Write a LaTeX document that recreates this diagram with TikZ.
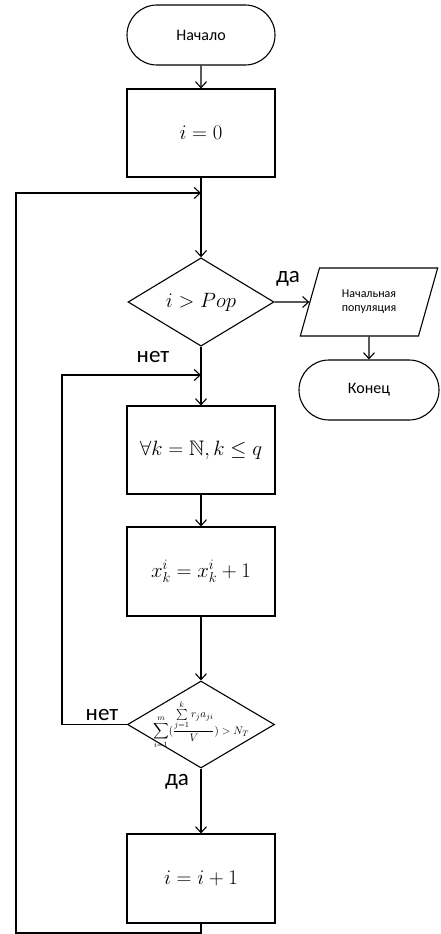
\documentclass[tikz,border=0pt]{standalone}
\usepackage{amsmath,amssymb}
\usepackage{fontspec}
\setmainfont{Carlito}
\usetikzlibrary{shapes.geometric,shapes.misc,arrows.meta}

\begin{document}
\begin{tikzpicture}[x=1pt,y=-1pt, line width=1.1pt,
  box/.style={draw, rectangle, minimum width=148pt, minimum height=88pt,
    inner sep=0pt, font=\fontsize{21}{24}\selectfont},
  term/.style={draw, rounded rectangle, minimum height=60pt,
    inner sep=0pt, font=\fontsize{16}{19}\selectfont},
  cond/.style={draw, diamond, minimum width=146pt, minimum height=88pt,
    inner sep=0pt},
  io/.style={draw, trapezium, trapezium left angle=66, trapezium right angle=114,
    trapezium stretches=true, minimum width=138pt, minimum height=68pt,
    inner sep=0pt, align=center, font=\fontsize{12}{14}\selectfont},
  flow/.style={-{Straight Barb[length=6pt,width=11pt]}},
  lbl/.style={font=\fontsize{23}{26}\selectfont, inner sep=0pt}
]
\useasboundingbox (0,0) rectangle (440,934);

% main column
\node[term, minimum width=148pt] (start) at (201,35) {Начало};
\node[box] (init) at (201,133) {$i=0$};
\node[cond, font=\fontsize{20}{24}\selectfont] (d1) at (201,302) {$i>Pop$};
\node[box] (loopk) at (201,450) {$\forall k=\mathbb{N}, k\le q$};
\node[box, minimum height=89pt] (incx) at (201,571.5) {$x_k^i=x_k^i+1$};
% the condition is set over a fixed-size diamond so the shape does not grow
\node[cond, minimum width=147pt, minimum height=87pt] (d2) at (201,724.5) {};
\node[inner sep=0pt, font=\fontsize{11}{12}\selectfont] (cond2) at (d2.center)
  {$\displaystyle\sum_{i=1}^{m}(\frac{\sum\limits_{j=1}^{k} r_j a_{ji}}{V}) > N_T$};
\node[box, minimum height=89pt] (inci) at (201,878.5) {$i=i+1$};

% exit branch
\node[io] (out) at (369,302) {Начальная\\популяция};
\node[term, minimum width=140pt] (stop) at (369,390) {Конец};

% junction points of the loops
\coordinate (j1) at (201,193);
\coordinate (j2) at (201,375);
\coordinate (c1) at (16,933);
\coordinate (c3) at (62,375);

\draw[flow] (start) -- (init);
\draw[flow] (init) -- (d1);
\draw[flow] (d1.east) -- (out.west);
\draw[flow] (out.south) -- (stop.north);
\draw[flow] (d1) -- (loopk);
\draw[flow] (loopk) -- (incx);
\draw[flow] (incx) -- (d2.north);
\draw[flow] (d2.south) -- (inci);
\draw[flow] (d2.west) -| (c3) -- (j2);
\draw[flow] (inci.south) |- (c1) |- (j1);

% branch labels
\node[lbl] (yes1) at (288,279) {да};
\node[lbl] (no1) at (153,357) {нет};
\node[lbl] (no2) at (102,715) {нет};
\node[lbl] (yes2) at (177,782) {да};
\end{tikzpicture}
\end{document}
